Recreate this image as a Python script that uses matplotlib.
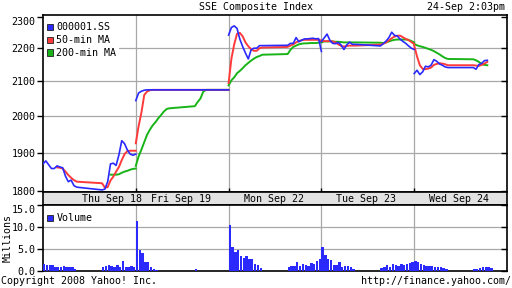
import numpy as np
import matplotlib
matplotlib.use("Agg")
import matplotlib.pyplot as plt
import matplotlib.lines as mlines
from matplotlib.patches import Patch

nan = np.nan

day_labels = ["Thu Sep 18", "Fri Sep 19", "Mon Sep 22", "Tue Sep 23", "Wed Sep 24"]

# minutes after the 9:30 open, lunch break 11:30-13:00, close 15:00
price_minutes = list(range(0, 121, 10)) + list(range(210, 331, 10))
volume_minutes = list(range(0, 120, 10)) + list(range(210, 330, 10))
session_len = 330.0

index_close = [
    [1870, 1878, 1868, 1858, 1858, 1865, 1862, 1860, 1838, 1824, 1828, 1814, 1810,
     1803, 1805, 1824, 1870, 1872, 1866, 1894, 1932, 1924, 1907, 1896, 1893, 1896],
    [2044, 2066, 2071, 2074, 2075, 2075, 2075, 2075, 2075, 2075, 2075, 2075, 2075,
     2075, 2075, 2075, 2075, 2075, 2075, 2075, 2075, 2075, 2075, 2075, 2075, 2075],
    [2241, 2265, 2270, 2262, 2228, 2205, 2185, 2167, 2195, 2200, 2200, 2208, 2208,
     2209, 2215, 2215, 2233, 2220, 2225, 2229, 2229, 2230, 2231, 2229, 2230, 2190],
    [2221, 2232, 2244, 2225, 2215, 2214, 2218, 2210, 2196, 2210, 2219, 2212, 2212,
     2207, 2214, 2222, 2233, 2250, 2240, 2238, 2228, 2221, 2215, 2207, 2200, 2196],
    [2123, 2133, 2120, 2128, 2145, 2143, 2148, 2165, 2160, 2152, 2148, 2143, 2141,
     2141, 2136, 2150, 2154, 2162, 2163, nan, nan, nan, nan, nan, nan, nan],
]

ma50 = [
    [nan, nan, nan, nan, nan, 1861, 1860, 1858, 1850, 1841, 1834, 1828, 1824,
     1820, 1809, 1810, 1827, 1837, 1850, 1862, 1880, 1896, 1904, 1905, 1905, 1905],
    [1925, 1972, 2010, 2060, 2070, 2074, 2075, 2075, 2075, 2075, 2075, 2075, 2075,
     2075, 2075, 2075, 2075, 2075, 2075, 2075, 2075, 2075, 2075, 2075, 2075, 2075],
    [2095, 2168, 2212, 2245, 2248, 2237, 2218, 2206, 2197, 2192, 2192, 2200, 2202,
     2204, 2208, 2212, 2218, 2222, 2225, 2226, 2226, 2226, 2226, 2226, 2226, 2224],
    [2222, 2222, 2222, 2222, 2221, 2218, 2212, 2207, 2205, 2207, 2208, 2208, 2208,
     2211, 2214, 2218, 2224, 2231, 2236, 2239, 2239, 2234, 2229, 2225, 2219, 2213],
    [2208, 2175, 2148, 2137, 2136, 2138, 2141, 2149, 2152, 2154, 2153, 2151, 2148,
     2148, 2147, 2146, 2149, 2153, 2158, nan, nan, nan, nan, nan, nan, nan],
]

ma200 = [
    [nan, nan, nan, nan, nan, nan, nan, nan, nan, nan, nan, nan, nan,
     nan, nan, nan, 1842, 1842, 1842, 1843, 1847, 1850, 1852, 1855, 1857, 1858],
    [1865, 1890, 1908, 1928, 1948, 1962, 1974, 1983, 1994, 2003, 2013, 2020, 2022,
     2028, 2040, 2050, 2070, 2075, 2075, 2075, 2075, 2075, 2075, 2075, 2075, 2075],
    [2088, 2103, 2112, 2124, 2131, 2139, 2148, 2155, 2162, 2168, 2173, 2176, 2180,
     2182, 2195, 2204, 2208, 2212, 2214, 2215, 2215, 2216, 2216, 2216, 2217, 2219],
    [2218, 2221, 2221, 2221, 2221, 2220, 2220, 2219, 2218, 2218, 2218, 2218, 2218,
     2217, 2216, 2218, 2221, 2224, 2226, 2227, 2227, 2227, 2227, 2226, 2222, 2218],
    [2213, 2209, 2206, 2204, 2201, 2198, 2195, 2191, 2186, 2181, 2175, 2170, 2167,
     2166, 2163, 2158, 2152, 2149, 2148, nan, nan, nan, nan, nan, nan, nan],
]

# volume in millions, one bar per 10 minutes
volume = [
    [1.7, 1.3, 1.4, 1.3, 1.0, 0.8, 0.8, 1.2, 1.0, 0.9, 0.8, 0.5,
     0.9, 1.1, 1.3, 1.2, 1.0, 1.3, 1.0, 2.2, 1.0, 1.0, 1.1, 1.0],
    [11.4, 4.8, 4.0, 2.1, 2.1, 0.8, 0.4, 0.2, 0, 0, 0, 0,
     0.4, 0, 0, 0, 0, 0, 0, 0, 0, 0, 0, 0],
    [10.5, 5.5, 4.4, 4.8, 3.4, 3.0, 3.4, 2.8, 2.7, 1.7, 1.4, 0.7,
     1.0, 1.1, 1.2, 2.1, 1.2, 1.6, 1.4, 1.2, 1.8, 1.7, 2.2, 2.7],
    [5.5, 3.6, 2.8, 2.5, 1.4, 1.4, 2.0, 1.0, 1.1, 1.1, 1.0, 0.4,
     0.6, 0.8, 1.3, 1.0, 1.6, 1.3, 1.1, 1.5, 1.4, 1.7, 1.9, 2.1],
    [2.2, 2.0, 1.6, 1.3, 1.1, 1.1, 1.2, 1.0, 0.9, 0.8, 0.6, 0.4,
     0.4, 0.5, 0.7, 0.9, 0.8, 0.9, 0.6, nan, nan, nan, nan, nan],
]

price_ticks = [1800, 1900, 2000, 2100, 2200, 2300]
volume_ticks = [0, 5, 10, 15]

BLUE = "#2a2aff"
RED = "#ff3a3a"
GREEN = "#18b418"
GRID = "#a8a8a8"

plt.rcParams["font.family"] = "DejaVu Sans Mono"
plt.rcParams["font.size"] = 7.2

W, H = 512, 288
fig = plt.figure(figsize=(W / 100, H / 100), dpi=100)


def box(x0, y0, x1, y1):
    # pixel box (top-left origin) -> figure fraction rect
    return [x0 / W, 1 - y1 / H, (x1 - x0) / W, (y1 - y0) / H]


def day_x(d, minutes):
    return d + np.asarray(minutes, dtype=float) / session_len


ax = fig.add_axes(box(43, 15, 507, 191.5))
axb = fig.add_axes(box(43, 191.5, 507, 205))
axv = fig.add_axes(box(43, 205, 507, 271))

# --- price panel
for d in range(len(day_labels)):
    xs = day_x(d, price_minutes)
    ax.plot(xs, ma200[d], color=GREEN, lw=1.4, zorder=3)
    ax.plot(xs, ma50[d], color=RED, lw=1.4, zorder=4)
    ax.plot(xs, index_close[d], color=BLUE, lw=1.2, zorder=5)

ax.set_yscale("log")
ax.set_ylim(1799, 2305)
ax.set_xlim(0, 5)
ax.minorticks_off()
ax.set_yticks(price_ticks, [str(v) for v in price_ticks])
ax.set_xticks([1, 2, 3, 4], [])
ax.tick_params(axis="y", direction="out", length=4, width=1, pad=1.5, right=True)
ax.tick_params(axis="x", direction="in", length=3, width=1)
for v in price_ticks[1:-1]:
    ax.axhline(v, color=GRID, lw=0.9, zorder=1)
for d in range(1, 5):
    ax.axvline(d, color=GRID, lw=0.9, zorder=1)
for t in ax.yaxis.get_major_ticks():
    t.tick2line.set_marker(mlines.TICKLEFT)
ax.get_yticklabels()[-1].set_verticalalignment("top")

handles = [Patch(facecolor=c, edgecolor="#202020", lw=0.6) for c in (BLUE, RED, GREEN)]
leg = ax.legend(handles, ["000001.SS", "50-min MA", "200-min MA"], loc="upper left",
                bbox_to_anchor=(0.002, 0.975), borderaxespad=0, borderpad=0.3,
                handlelength=0.6, handleheight=0.6, handletextpad=0.35,
                labelspacing=0.28, frameon=True, fancybox=False, framealpha=1)
leg.get_frame().set_facecolor("white")
leg.get_frame().set_edgecolor("none")
leg.set_zorder(6)

# --- date band
axb.set_facecolor("#e2e2e2")
axb.set_xlim(0, 5)
axb.set_ylim(0, 1)
axb.set_xticks([])
axb.set_yticks([])
label_pos = [0.745, 1.485, 2.485, 3.485, 4.485]
for lx, txt in zip(label_pos, day_labels):
    axb.text(lx, 0.45, txt, ha="center", va="center")

# --- volume panel
for d in range(len(day_labels)):
    axv.bar(day_x(d, volume_minutes), volume[d], width=8.5 / session_len,
            align="edge", color=BLUE, lw=0, zorder=3)
axv.set_xlim(0, 5)
axv.set_ylim(0, 15)
axv.set_yticks(volume_ticks, ["%.1f" % v for v in volume_ticks])
axv.set_xticks([])
axv.tick_params(axis="y", direction="out", length=4, width=1, pad=1.5, right=True)
for v in volume_ticks[1:-1]:
    axv.axhline(v, color=GRID, lw=0.9, zorder=1)
for d in range(1, 5):
    axv.axvline(d, color=GRID, lw=0.9, zorder=1)
for t in axv.yaxis.get_major_ticks():
    t.tick2line.set_marker(mlines.TICKLEFT)
axv.get_yticklabels()[-1].set_verticalalignment("top")

vleg = axv.legend([Patch(facecolor=BLUE, edgecolor="#202020", lw=0.6)], ["Volume"],
                  loc="upper left", bbox_to_anchor=(0.002, 0.92), borderaxespad=0,
                  borderpad=0.3, handlelength=0.6, handleheight=0.6,
                  handletextpad=0.35, frameon=False)

for a in (ax, axb, axv):
    for s in a.spines.values():
        s.set_linewidth(1.2)
        s.set_color("black")

# --- header / footer
fig.text(256 / W, 1 - 7 / H, "SSE Composite Index", ha="center", va="center")
fig.text(505 / W, 1 - 7 / H, "24-Sep 2:03pm", ha="right", va="center")
fig.text(7.5 / W, 1 - 238 / H, "Millions", rotation=90, ha="center", va="center")
fig.text(1 / W, 1 - 281 / H, "Copyright 2008 Yahoo! Inc.", ha="left", va="center")
fig.text(511 / W, 1 - 281 / H, "http://finance.yahoo.com/", ha="right", va="center")

fig.savefig("out.png", dpi=100)
